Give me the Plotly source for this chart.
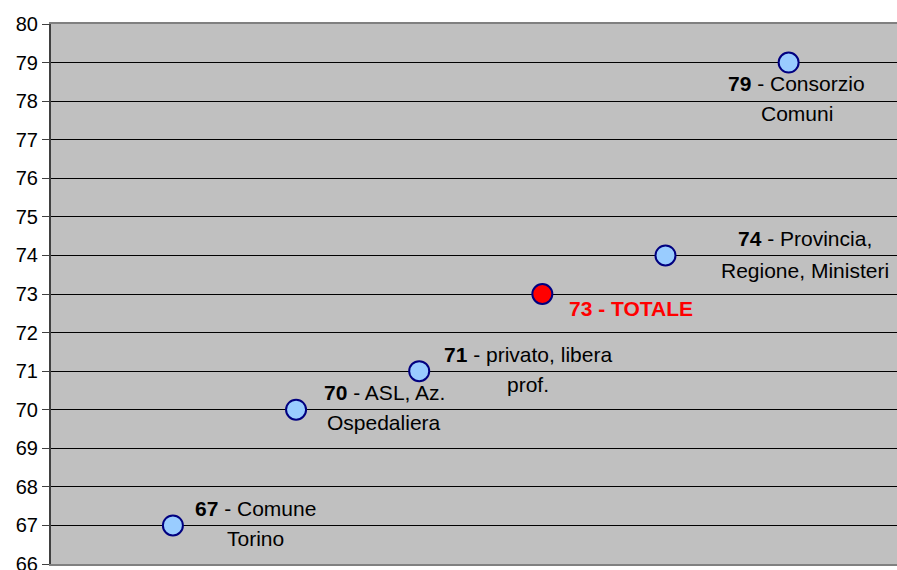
import plotly.graph_objects as go

# valori per ente (ordine sull'asse x)
categories = ["Comune Torino", "ASL, Az. Ospedaliera", "privato, libera prof.",
              "TOTALE", "Provincia, Regione, Ministeri", "Consorzio Comuni"]
values = [67, 70, 71, 73, 74, 79]
label_line1 = ["Comune", "ASL, Az.", "privato, libera", "TOTALE", "Provincia,", "Consorzio"]
label_line2 = ["Torino", "Ospedaliera", "prof.", "", "Regione, Ministeri", "Comuni"]

_FONT = "Arial, Liberation Sans, sans-serif"
LIGHT_BLUE = "#99CCFF"
NAVY = "#000080"

# offset in pixel di ciascuna etichetta rispetto al punto
label_dx = [83, 88, 109, 89, 140, 8]
label_dy1 = [17, 17, 17, -14, 17, -21]
label_dy2 = [-13, -13, -13, 0, -15, -51]

xs = list(range(1, len(values) + 1))
fills = [("#FF0000" if c == "TOTALE" else LIGHT_BLUE) for c in categories]

fig = go.Figure()
fig.add_trace(go.Scatter(
    x=xs,
    y=values,
    mode="markers",
    marker=dict(size=20, color=fills, line=dict(color=NAVY, width=2)),
    text=categories,
    hovertemplate="%{text}: %{y}<extra></extra>",
    showlegend=False,
))

annotations = []
for i, (x, v) in enumerate(zip(xs, values)):
    if categories[i] == "TOTALE":
        annotations.append(dict(
            x=x, y=v, xref="x", yref="y",
            text=f"<b>{v} - {label_line1[i]}</b>",
            showarrow=False, xanchor="center", yanchor="middle",
            xshift=label_dx[i], yshift=label_dy1[i],
            font=dict(family=_FONT, size=21, color="#FF0000"),
        ))
        continue
    annotations.append(dict(
        x=x, y=v, xref="x", yref="y",
        text=f"<b>{v}</b> - {label_line1[i]}",
        showarrow=False, xanchor="center", yanchor="middle",
        xshift=label_dx[i], yshift=label_dy1[i],
        font=dict(family=_FONT, size=21, color="black"),
    ))
    annotations.append(dict(
        x=x, y=v, xref="x", yref="y",
        text=label_line2[i],
        showarrow=False, xanchor="center", yanchor="middle",
        xshift=label_dx[i], yshift=label_dy2[i],
        font=dict(family=_FONT, size=21, color="black"),
    ))

fig.update_layout(
    width=897,
    height=570,
    margin=dict(l=51, r=0, t=24, b=6),
    plot_bgcolor="#C0C0C0",
    paper_bgcolor="white",
    font=dict(family=_FONT, size=20, color="black"),
    xaxis=dict(
        range=[0.01, 6.88],
        showticklabels=False,
        showgrid=False,
        zeroline=False,
        showline=True,
        linecolor="#808080",
        linewidth=2,
        mirror=True,
        ticks="",
        automargin=False,
    ),
    yaxis=dict(
        range=[66, 80],
        dtick=1,
        showgrid=True,
        gridcolor="black",
        gridwidth=1,
        zeroline=False,
        showline=True,
        linecolor="#404040",
        linewidth=2,
        ticks="outside",
        ticklen=7,
        tickcolor="#404040",
        tickfont=dict(size=20),
        ticklabeloverflow="allow",
        automargin=False,
    ),
    annotations=annotations,
)

# niente margine del body, così la figura occupa esattamente la finestra
fig.write_html(
    "out.html",
    config=dict(displayModeBar=False, responsive=False),
    post_script="document.body.style.margin='0';document.body.style.overflow='hidden';",
)
